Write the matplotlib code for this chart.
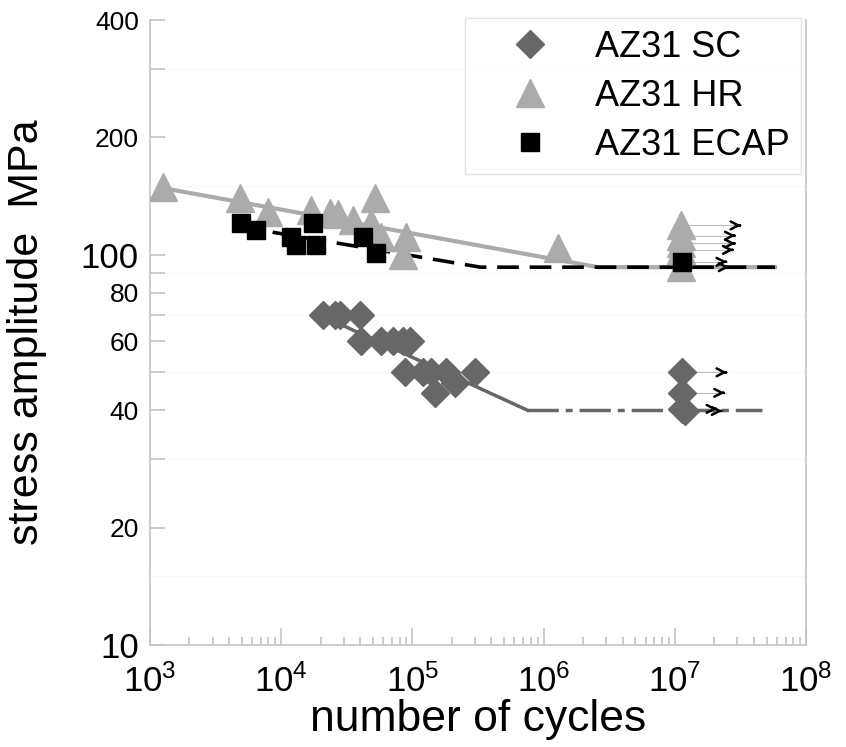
import math
import matplotlib.pyplot as plt
from matplotlib.ticker import LogLocator, FixedLocator, NullFormatter

plt.rcParams['font.family'] = ['Liberation Sans', 'DejaVu Sans']
plt.rcParams['mathtext.default'] = 'regular'

# AZ31 SC (single crystal) - failures
sc_cycles = [2.08e4, 2.57e4, 2.81e4, 3.99e4, 4.06e4, 5.77e4, 7.12e4, 8.48e4, 9.6e4,
             8.8e4, 1.2e5, 1.39e5, 1.8e5, 3.0e5, 1.49e5, 2.11e5]
sc_stress = [70, 70, 70, 70, 60, 60, 60, 60, 60,
             50, 50, 50, 50, 50, 44.3, 47]
# run-outs
sc_run_cycles = [1.13e7, 1.13e7, 1.13e7, 1.2e7]
sc_run_stress = [50, 44.3, 40.3, 39.8]
sc_run_end = [2.5e7, 2.4e7, 2.1e7, 2.3e7]

# AZ31 HR
hr_cycles = [1.26e3, 4.85e3, 7.9e3, 1.69e4, 2.36e4, 2.71e4, 3.53e4, 5.19e4, 4.83e4,
             5.77e4, 8.9e4, 8.5e4, 1.29e6]
hr_stress = [149, 140, 129, 130, 128, 127, 123, 140, 121,
             111, 111, 100, 104]
hr_run_cycles = [1.11e7, 1.11e7, 1.11e7, 1.11e7, 1.11e7]
hr_run_stress = [119, 112, 107, 103, 93]
hr_run_end = [3.2e7, 2.9e7, 2.9e7, 2.8e7, 2.6e7]

# AZ31 ECAP
ecap_cycles = [4.94e3, 6.43e3, 1.19e4, 1.30e4, 1.75e4, 1.84e4, 4.2e4, 5.27e4]
ecap_stress = [121, 116, 111, 106, 121, 106, 111, 101]
ecap_run_cycles = [1.13e7]
ecap_run_stress = [96]
ecap_run_end = [2.5e7]

# fitted curves (knee + endurance limit)
hr_fit_n = [1.3e3, 2.6e6, 5.8e7]
hr_fit_s = [148, 93, 93]
ecap_fit_n = [4.9e3, 3.3e5, 5.8e7]
ecap_fit_s = [118, 93, 93]
sc_fit_n = [2.2e4, 7.5e5]
sc_fit_s = [69, 40]
sc_lim_n = [7.5e5, 4.6e7]
sc_lim_s = [40, 40]

y_ticks = [10, 20, 40, 60, 80, 100, 200, 400]
x_ticks = [1e3, 1e4, 1e5, 1e6, 1e7, 1e8]

c_sc = '#676767'
c_hr = '#ababab'
c_ecap = '#000000'
c_axis = '#c4c4c4'

fig = plt.figure(figsize=(8.46, 7.47), dpi=100)
ax = fig.add_axes([150 / 846, 1 - 645 / 747, 656 / 846, 625 / 747])
ax.set_xscale('log')
ax.set_yscale('log')
ax.set_xlim(1e3, 1e8)
ax.set_ylim(10, 400)

# very faint grid
for yv in [15, 30, 50, 70, 90, 150, 300]:
    ax.axhline(yv, color='#f8f8f8', lw=1, zorder=0)

# fit lines
ax.plot(hr_fit_n, hr_fit_s, color=c_hr, lw=3, zorder=2)
ax.plot(ecap_fit_n, ecap_fit_s, color=c_ecap, lw=2.6, dashes=(6, 3), zorder=3)
ax.plot(sc_fit_n, sc_fit_s, color=c_sc, lw=2.5, zorder=2)
ax.plot(sc_lim_n, sc_lim_s, color=c_sc, lw=2.5, dashes=(9, 2, 2, 2), zorder=2)

# run-out arrows
def runouts(xs, ys, ends):
    for x, y, e in zip(xs, ys, ends):
        ax.plot([x, e], [y, y], color='#bdbdbd', lw=0.8, zorder=1)
        ax.annotate('', xy=(e, y), xytext=(e * 0.93, y),
                    arrowprops=dict(arrowstyle='->,head_length=0.55,head_width=0.28',
                                    color='black', lw=1.8), zorder=5)

runouts(hr_run_cycles, hr_run_stress, hr_run_end)
runouts(ecap_run_cycles, ecap_run_stress, ecap_run_end)
runouts(sc_run_cycles, sc_run_stress, sc_run_end)

# markers
ax.plot(sc_cycles + sc_run_cycles, sc_stress + sc_run_stress, 'D', color=c_sc,
        markersize=14, linestyle='none', zorder=4, label='AZ31 SC')
ax.plot(hr_cycles + hr_run_cycles, hr_stress + hr_run_stress, '^', color=c_hr,
        markersize=20, linestyle='none', zorder=3, label='AZ31 HR')
ax.plot(ecap_cycles + ecap_run_cycles, ecap_stress + ecap_run_stress, 's', color=c_ecap,
        markersize=13, linestyle='none', zorder=4, label='AZ31 ECAP')

# axes styling
for side in ['left', 'bottom', 'right']:
    ax.spines[side].set_color(c_axis)
    ax.spines[side].set_linewidth(1.2)
ax.spines['top'].set_visible(False)

ax.yaxis.set_major_locator(FixedLocator(y_ticks))
ax.yaxis.set_minor_locator(FixedLocator([30, 50, 70, 90, 300]))
ax.yaxis.set_minor_formatter(NullFormatter())
ax.set_yticklabels([str(v) for v in y_ticks])
for lab, v in zip(ax.get_yticklabels(), y_ticks):
    lab.set_fontsize(25 if v in (10, 100) else 19)

ax.xaxis.set_major_locator(FixedLocator(x_ticks))
ax.xaxis.set_minor_locator(LogLocator(base=10, subs=range(2, 10)))
ax.xaxis.set_minor_formatter(NullFormatter())
ax.set_xticklabels(['$10^{%d}$' % round(math.log10(v)) for v in x_ticks], fontsize=25)

ax.tick_params(which='both', direction='in', color=c_axis, width=1.2)
ax.tick_params(axis='y', which='both', length=11, pad=8)
ax.tick_params(axis='x', which='major', length=12, pad=14)
ax.tick_params(axis='x', which='minor', length=6)
ax.tick_params(axis='y', which='both', right=False)

ax.set_xlabel('number of cycles', fontsize=32, labelpad=0)
ax.set_ylabel('stress amplitude  MPa', fontsize=31)
ax.yaxis.set_label_coords(-0.157, 0.5)

leg = ax.legend(loc='upper left', bbox_to_anchor=(0.48, 1.003), fontsize=26,
                frameon=True, fancybox=False, edgecolor='#dddddd',
                borderpad=0.32, labelspacing=0.39, handletextpad=0.33,
                borderaxespad=0, handlelength=2.94, markerscale=1)
leg.get_frame().set_linewidth(1)

fig.savefig('out.png', dpi=100)
